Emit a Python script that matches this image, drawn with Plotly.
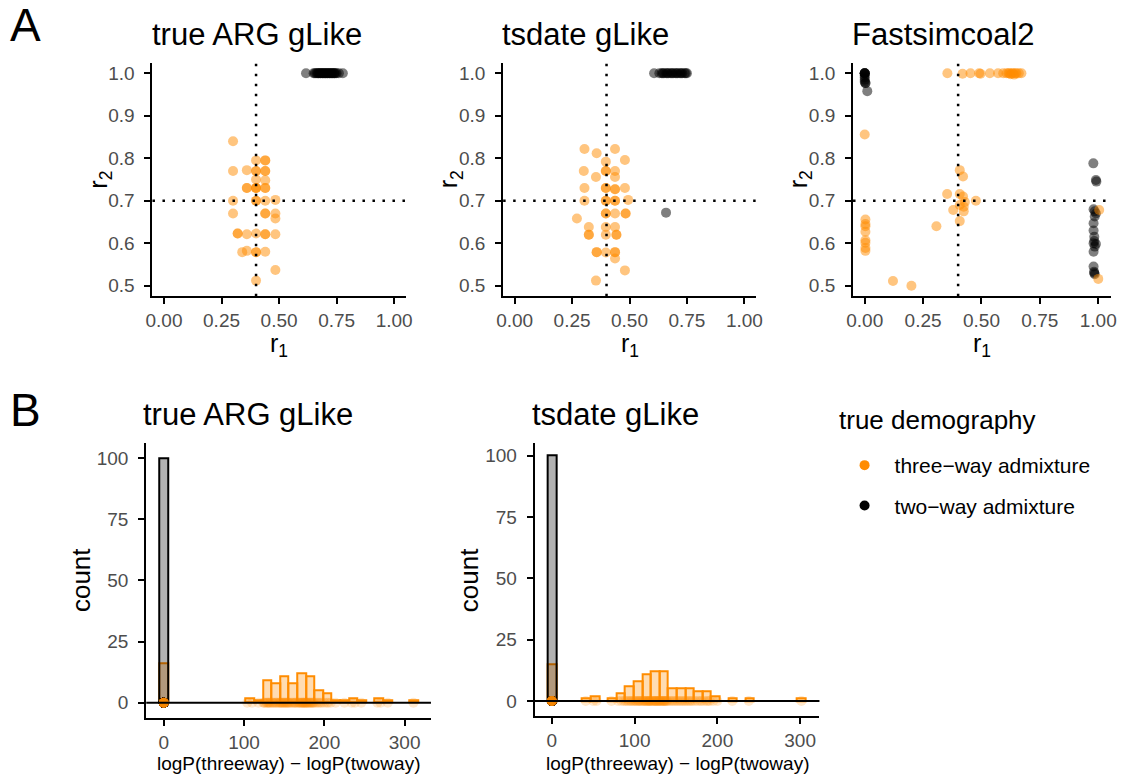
import plotly.graph_objects as go

ORANGE = "#FF8C00"
FONT = "Liberation Sans, Arial, Helvetica, sans-serif"
TICK_COLOR = "#4D4D4D"

# ---------------- Panel A data (r1, r2 estimates) ----------------
a1_three_r1 = [0.30, 0.40, 0.44, 0.44, 0.30, 0.36, 0.40, 0.40, 0.44, 0.44, 0.40, 0.44,
               0.36, 0.36, 0.40, 0.40, 0.40, 0.44, 0.44, 0.30, 0.40, 0.40, 0.44, 0.484,
               0.30, 0.44, 0.44, 0.484, 0.484, 0.32, 0.32, 0.36, 0.40, 0.44, 0.44, 0.484,
               0.34, 0.36, 0.40, 0.40, 0.44, 0.484, 0.40]
a1_three_r2 = [0.84, 0.795, 0.795, 0.795, 0.77, 0.772, 0.77, 0.77, 0.77, 0.77, 0.75, 0.748,
               0.73, 0.73, 0.73, 0.73, 0.73, 0.73, 0.73, 0.70, 0.70, 0.70, 0.70, 0.702,
               0.67, 0.67, 0.67, 0.67, 0.658, 0.623, 0.623, 0.621, 0.623, 0.621, 0.621, 0.621,
               0.579, 0.582, 0.579, 0.579, 0.58, 0.537, 0.512]
a1_two_r1 = [0.617, 0.65, 0.655, 0.66, 0.665, 0.67, 0.675, 0.68, 0.685, 0.69, 0.695, 0.70,
             0.705, 0.71, 0.715, 0.72, 0.725, 0.73, 0.735, 0.74, 0.745, 0.75, 0.76, 0.777,
             0.67, 0.68, 0.69, 0.70, 0.71, 0.72, 0.73, 0.74]
a1_two_r2 = [1.0, 1.0, 1.0, 1.0, 1.0, 1.0, 1.0, 1.0, 1.0, 1.0, 1.0, 1.0,
             1.0, 1.0, 1.0, 1.0, 1.0, 1.0, 1.0, 1.0, 1.0, 1.0, 1.0, 1.0,
             1.0, 1.0, 1.0, 1.0, 1.0, 1.0, 1.0, 1.0]

a2_three_r1 = [0.304, 0.357, 0.437, 0.48, 0.397, 0.301, 0.397, 0.397, 0.437, 0.354, 0.437,
               0.304, 0.397, 0.397, 0.437, 0.437, 0.48, 0.304, 0.397, 0.397, 0.437, 0.437,
               0.494, 0.397, 0.397, 0.437, 0.483, 0.483, 0.271, 0.323, 0.397, 0.437, 0.323,
               0.323, 0.397, 0.443, 0.443, 0.357, 0.357, 0.397, 0.437, 0.437, 0.437, 0.48, 0.354]
a2_three_r2 = [0.822, 0.812, 0.822, 0.796, 0.792, 0.77, 0.77, 0.77, 0.77, 0.756, 0.756,
               0.73, 0.73, 0.73, 0.727, 0.727, 0.73, 0.70, 0.70, 0.70, 0.70, 0.70,
               0.702, 0.67, 0.67, 0.67, 0.67, 0.67, 0.658, 0.638, 0.638, 0.638, 0.62,
               0.62, 0.62, 0.62, 0.62, 0.579, 0.579, 0.578, 0.579, 0.579, 0.564, 0.536, 0.512]
a2_two_r1 = [0.659, 0.607, 0.63, 0.64, 0.65, 0.66, 0.67, 0.68, 0.69, 0.70, 0.71, 0.72,
             0.73, 0.74, 0.75, 0.645, 0.665, 0.685, 0.705, 0.725, 0.745]
a2_two_r2 = [0.672, 1.0, 1.0, 1.0, 1.0, 1.0, 1.0, 1.0, 1.0, 1.0, 1.0, 1.0,
             1.0, 1.0, 1.0, 1.0, 1.0, 1.0, 1.0, 1.0, 1.0]

a3_three_r1 = [0.0, 0.003, 0.003, 0.003, 0.003, 0.003, 0.003, 0.003, 0.003,
               0.121, 0.2, 0.307, 0.353, 0.407, 0.421, 0.407, 0.421, 0.379, 0.407, 0.424,
               0.429, 0.476, 0.407, 0.424,
               0.354, 0.419, 0.453, 0.49, 0.496, 0.536, 0.571, 0.593, 0.607, 0.615, 0.62,
               0.625, 0.63, 0.635, 0.64, 0.645, 0.65, 0.66, 0.671,
               1.004, 1.0]
a3_three_r2 = [0.856, 0.656, 0.645, 0.64, 0.627, 0.607, 0.601, 0.589, 0.582,
               0.511, 0.5, 0.64, 0.716, 0.772, 0.757, 0.716, 0.71, 0.678, 0.69, 0.686,
               0.697, 0.70, 0.652, 0.675,
               1.0, 0.999, 1.0, 1.0, 0.999, 1.0, 1.0, 1.0, 1.0, 1.0, 1.0,
               0.998, 1.0, 1.0, 0.997, 1.0, 1.0, 1.0, 1.0,
               0.678, 0.516]
a3_two_r1 = [0.0, 0.0, 0.0, 0.0, 0.0, 0.0, 0.0, 0.0, 0.0, 0.003, 0.003, 0.011,
             0.979, 0.99, 0.992, 0.98, 0.985, 0.99, 0.985, 0.98, 0.98, 0.983, 0.983,
             0.98, 0.99, 0.985, 0.98, 0.98, 0.982, 0.985, 0.983]
a3_two_r2 = [1.0, 1.0, 1.0, 1.0, 1.0, 0.995, 0.99, 0.985, 0.98, 0.977, 0.977, 0.958,
             0.788, 0.749, 0.745, 0.68, 0.675, 0.67, 0.663, 0.647, 0.63, 0.615, 0.605,
             0.60, 0.598, 0.592, 0.58, 0.545, 0.533, 0.527, 0.53]

true_r1 = 0.4
true_r2 = 0.7

# ---------------- Panel B data: logP(threeway) - logP(twoway) ----------------
b1_three = [0, 0, 0, 0, 0, 0, 0, 0, 0, 0, 0, 0, 0, 0, 0, 0,
            104, 110, 118, 124, 125, 126, 128, 129, 130, 131, 132, 133,
            135, 136, 137, 139, 140, 141, 143, 144,
            145, 146, 147, 148, 149, 150, 151, 152, 153, 154, 155,
            156, 157, 159, 160, 162, 163, 164, 165,
            167, 168, 169, 170, 171, 172, 173, 173.5, 174, 175, 176, 176.5,
            177.5, 178, 179, 180, 181, 182, 183, 184, 185, 186, 187,
            189, 191, 193, 195, 197, 200, 203, 205, 208,
            214, 225, 234, 238, 246, 266, 270, 279, 311]
b1_two = [0.0] * 100   # all two-way simulations give a difference of 0

b2_three = [0, 0, 0, 0, 0, 0, 0, 0, 0, 0, 0, 0, 0, 0, 0,
            41, 50, 54, 72, 80, 84, 87, 89, 91, 93, 95, 96, 98,
            99.5, 101, 102, 104, 105, 106, 107, 108.5,
            110, 111, 112, 113, 114, 115, 116, 117, 117.5, 118, 119,
            120, 121, 122, 123, 124, 125, 125.5, 126, 127, 128, 129, 129.5,
            130.5, 131, 132, 133, 134, 135, 135.5, 136, 137, 138, 139, 140,
            142, 144, 146, 148, 150, 152, 154, 156, 158, 160,
            162, 164, 166, 168, 170, 173, 176, 179, 181, 184, 187, 189, 191,
            195, 200, 218, 238, 301.6]
b2_two = [0.0] * 100

N_BINS = 30

W, H = 1125, 776


def dom_x(a, b):
    return [a / W, b / W]


def dom_y(top, bottom):
    return [1 - bottom / H, 1 - top / H]


fig = go.Figure()

# ---------------- Panel A scatter traces ----------------
panels_a = [
    ("x", "y", a1_two_r1, a1_two_r2, a1_three_r1, a1_three_r2),
    ("x2", "y2", a2_two_r1, a2_two_r2, a2_three_r1, a2_three_r2),
    ("x3", "y3", a3_two_r1, a3_two_r2, a3_three_r1, a3_three_r2),
]
for xa, ya, tr1, tr2, hr1, hr2 in panels_a:
    fig.add_trace(go.Scatter(x=tr1, y=tr2, mode="markers", xaxis=xa, yaxis=ya,
                             marker=dict(color="black", size=10, opacity=0.5, line=dict(width=0)),
                             showlegend=False, hoverinfo="x+y"))
    fig.add_trace(go.Scatter(x=hr1, y=hr2, mode="markers", xaxis=xa, yaxis=ya,
                             marker=dict(color=ORANGE, size=10, opacity=0.5, line=dict(width=0)),
                             showlegend=False, hoverinfo="x+y"))

# ---------------- Panel B histograms ----------------
panels_b = [("x4", "y4", b1_three, b1_two), ("x5", "y5", b2_three, b2_two)]
for xa, ya, three, two in panels_b:
    allv = three + two
    lo, hi = min(allv), max(allv)
    w = (hi - lo) / (N_BINS - 1)
    bins = dict(start=lo - w / 2, end=hi + w / 2, size=w)
    fig.add_trace(go.Histogram(x=three, xbins=bins, xaxis=xa, yaxis=ya,
                               marker=dict(color="rgba(255,140,0,0.3)",
                                           line=dict(color=ORANGE, width=2)),
                               showlegend=False))
    fig.add_trace(go.Histogram(x=two, xbins=bins, xaxis=xa, yaxis=ya,
                               marker=dict(color="rgba(0,0,0,0.3)",
                                           line=dict(color="black", width=2)),
                               showlegend=False))
    fig.add_trace(go.Scatter(x=two, y=[0] * len(two), mode="markers", xaxis=xa, yaxis=ya,
                             marker=dict(color="black", size=10, opacity=0.2, line=dict(width=0)),
                             showlegend=False, hoverinfo="x"))
    fig.add_trace(go.Scatter(x=three, y=[0] * len(three), mode="markers", xaxis=xa, yaxis=ya,
                             marker=dict(color=ORANGE, size=10, opacity=0.2, line=dict(width=0)),
                             showlegend=False, hoverinfo="x"))

# legend entries
fig.add_trace(go.Scatter(x=[None], y=[None], mode="markers", name="three\u2212way admixture",
                         marker=dict(color=ORANGE, size=10), legendgroup="a", xaxis="x", yaxis="y"))
fig.add_trace(go.Scatter(x=[None], y=[None], mode="markers", name="two\u2212way admixture",
                         marker=dict(color="black", size=10), legendgroup="b", xaxis="x", yaxis="y"))

axis_common = dict(showline=True, linecolor="black", linewidth=2, ticks="outside",
                   ticklen=6, tickwidth=2, tickcolor="black", showgrid=False, zeroline=False,
                   tickfont=dict(size=19, color=TICK_COLOR, family=FONT), fixedrange=True)

a_x_ticks = dict(tickvals=[0, 0.25, 0.5, 0.75, 1.0], ticktext=["0.00", "0.25", "0.50", "0.75", "1.00"])
a_y_ticks = dict(tickvals=[0.5, 0.6, 0.7, 0.8, 0.9, 1.0], ticktext=["0.5", "0.6", "0.7", "0.8", "0.9", "1.0"],
                 ticklabelstandoff=6)
b_x_ticks = dict(tickvals=[0, 100, 200, 300])
b_y_ticks = dict(tickvals=[0, 25, 50, 75, 100], ticklabelstandoff=6)

A_TOP, A_BOT = 62.7, 296.3
a_xdoms = [(147.3, 403.7), (502.4, 758.3), (856.7, 1118.0)]
a_xranges = [[-0.05, 1.05], [-0.05, 1.05], [-0.05, 1.055]]
names = ["", "2", "3"]
for i, n in enumerate(names):
    fig.update_layout(**{
        f"xaxis{n}": dict(domain=dom_x(*a_xdoms[i]), range=a_xranges[i], anchor=f"y{n}",
                          **a_x_ticks, **axis_common),
        f"yaxis{n}": dict(domain=dom_y(A_TOP, A_BOT), range=[0.475, 1.025], anchor=f"x{n}",
                          **a_y_ticks, **axis_common),
    })

B_TOP = 443.3
fig.update_layout(
    xaxis4=dict(domain=dom_x(141.0, 429.3), range=[-21.8, 332.8], anchor="y4", **b_x_ticks, **axis_common),
    yaxis4=dict(domain=dom_y(B_TOP, 717.7), range=[-6.1, 106], anchor="x4", **b_y_ticks, **axis_common),
    xaxis5=dict(domain=dom_x(534.3, 822.7), range=[-20.8, 323.4], anchor="y5", **b_x_ticks, **axis_common),
    yaxis5=dict(domain=dom_y(B_TOP, 716.0), range=[-6.1, 105], anchor="x5", **b_y_ticks, **axis_common),
)

shapes = []
for n in names:
    xr = "x" + n
    yr = "y" + n
    shapes.append(dict(type="line", xref=xr, yref=f"{yr} domain", x0=true_r1, x1=true_r1, y0=0, y1=1,
                       line=dict(color="black", width=2.5, dash="2.5px,7.5px")))
    shapes.append(dict(type="line", xref=f"{xr} domain", yref=yr, x0=0, x1=1, y0=true_r2, y1=true_r2,
                       line=dict(color="black", width=2.5, dash="2.5px,7.5px")))
for n in ["4", "5"]:
    shapes.append(dict(type="line", xref=f"x{n} domain", yref=f"y{n}", x0=0, x1=1, y0=0, y1=0,
                       line=dict(color="black", width=2)))

annotations = []


def txt(text, x, y, size, xanchor="center", angle=0, color="black"):
    annotations.append(dict(text=text, x=x / W, y=1 - y / H, xref="paper", yref="paper",
                            xanchor=xanchor, yanchor="middle", showarrow=False, textangle=angle,
                            font=dict(size=size, color=color, family=FONT)))


txt("A", 1, 25, 46, xanchor="left")
txt("B", 1, 410, 46, xanchor="left")
titles_a = ["true ARG gLike", "tsdate gLike", "Fastsimcoal2"]
for i, t in enumerate(titles_a):
    txt(t, a_xdoms[i][0] - 3, 35, 31, xanchor="left")
    cx = (a_xdoms[i][0] + a_xdoms[i][1]) / 2
    txt("r<sub>1</sub>", cx, 345, 25)
    txt("r<sub>2</sub>", a_xdoms[i][0] - 54, (A_TOP + A_BOT) / 2, 25, angle=-90)
txt("true ARG gLike", 136, 414, 31, xanchor="left")
txt("tsdate gLike", 530, 414, 31, xanchor="left")
txt("count", 75, 580, 26, angle=-90)
txt("count", 468, 580, 26, angle=-90)
txt("logP(threeway) \u2212 logP(twoway)", (141 + 429.3) / 2, 763, 19)
txt("logP(threeway) \u2212 logP(twoway)", (534.3 + 822.7) / 2, 763, 19)
txt("true demography", 840, 420, 26, xanchor="left")

fig.update_layout(
    width=W, height=H, margin=dict(l=0, r=0, t=0, b=0),
    paper_bgcolor="white", plot_bgcolor="white",
    font=dict(family=FONT, color="black"),
    barmode="overlay", bargap=0,
    shapes=shapes, annotations=annotations,
    showlegend=True,
    legend=dict(x=838 / W, y=1 - 445 / H, xanchor="left", yanchor="top",
                font=dict(size=21, family=FONT), tracegroupgap=10,
                bgcolor="rgba(0,0,0,0)", itemwidth=50),
)

fig.write_html("out.html", config={"displayModeBar": False},
               post_script="document.body.style.margin='0px';"
                           "document.documentElement.style.overflow='hidden';")
